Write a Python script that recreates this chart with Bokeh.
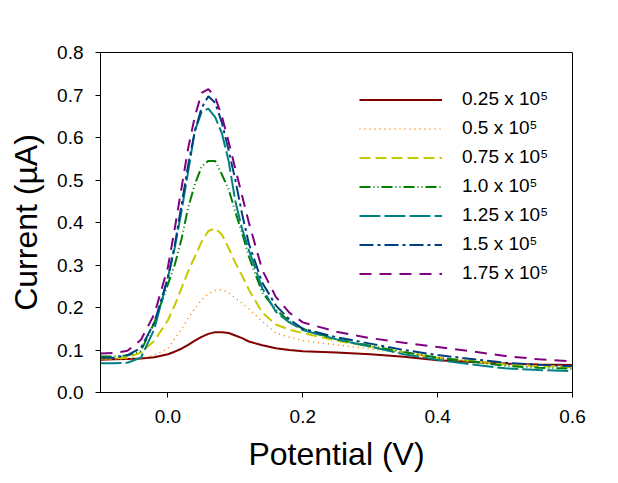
from bokeh.plotting import figure
from bokeh.models import Range1d, FixedTicker, PrintfTickFormatter, Legend, LegendItem
from bokeh.embed import file_html
from bokeh.resources import INLINE

# Potential (V)
potential = [-0.1, -0.08, -0.06, -0.04, -0.02, 0.0, 0.01, 0.02, 0.03, 0.04,
             0.05, 0.06, 0.07, 0.08, 0.09, 0.1, 0.11, 0.12, 0.14, 0.16,
             0.18, 0.2, 0.25, 0.3, 0.35, 0.4, 0.45, 0.5, 0.55, 0.6]

# Current (uA) for each concentration
c_025 = [0.077, 0.078, 0.079, 0.080, 0.083, 0.090, 0.096, 0.103, 0.112, 0.122,
         0.131, 0.138, 0.142, 0.142, 0.140, 0.134, 0.128, 0.120, 0.111, 0.104,
         0.100, 0.097, 0.094, 0.090, 0.084, 0.076, 0.072, 0.068, 0.066, 0.065]
c_050 = [0.078, 0.078, 0.079, 0.080, 0.088, 0.103, 0.127, 0.148, 0.175, 0.198,
         0.218, 0.232, 0.240, 0.242, 0.235, 0.222, 0.210, 0.197, 0.167, 0.140,
         0.130, 0.122, 0.112, 0.103, 0.092, 0.080, 0.074, 0.068, 0.064, 0.062]
c_075 = [0.080, 0.080, 0.082, 0.094, 0.122, 0.170, 0.205, 0.245, 0.285, 0.320,
         0.355, 0.380, 0.386, 0.372, 0.340, 0.305, 0.275, 0.242, 0.188, 0.160,
         0.148, 0.140, 0.122, 0.108, 0.095, 0.082, 0.074, 0.066, 0.062, 0.060]
c_100 = [0.085, 0.085, 0.087, 0.098, 0.165, 0.255, 0.300, 0.360, 0.435, 0.490,
         0.532, 0.545, 0.545, 0.513, 0.478, 0.425, 0.375, 0.320, 0.235, 0.195,
         0.168, 0.150, 0.125, 0.110, 0.095, 0.082, 0.073, 0.063, 0.058, 0.056]
c_125 = [0.069, 0.069, 0.070, 0.082, 0.150, 0.271, 0.340, 0.425, 0.520, 0.616,
         0.660, 0.668, 0.648, 0.610, 0.545, 0.450, 0.385, 0.335, 0.245, 0.190,
         0.165, 0.147, 0.125, 0.108, 0.090, 0.077, 0.066, 0.057, 0.053, 0.050]
c_150 = [0.082, 0.082, 0.088, 0.105, 0.165, 0.270, 0.345, 0.440, 0.535, 0.615,
         0.670, 0.697, 0.682, 0.635, 0.570, 0.500, 0.420, 0.350, 0.258, 0.205,
         0.172, 0.150, 0.130, 0.115, 0.100, 0.088, 0.079, 0.070, 0.065, 0.062]
c_175 = [0.092, 0.093, 0.098, 0.124, 0.185, 0.295, 0.385, 0.480, 0.575, 0.650,
         0.705, 0.714, 0.695, 0.650, 0.590, 0.526, 0.463, 0.400, 0.288, 0.225,
         0.188, 0.165, 0.143, 0.128, 0.117, 0.107, 0.097, 0.086, 0.078, 0.073]

labels = ["0.25 x 10\u2075", "0.5 x 10\u2075", "0.75 x 10\u2075", "1.0 x 10\u2075",
          "1.25 x 10\u2075", "1.5 x 10\u2075", "1.75 x 10\u2075"]
series = [c_025, c_050, c_075, c_100, c_125, c_150, c_175]
colors = ["#800000", "#FF8000", "#C8C800", "#008000", "#008080", "#004080", "#800080"]
dashes = ["solid", "1 4", "11 5", "11 3 1 3 1 3", "21 4", "14 4 3 4", "12 8"]
widths = [2, 1.5, 2, 2, 2, 2, 2]

x_ticks = [0.0, 0.2, 0.4, 0.6]
y_ticks = [0.0, 0.1, 0.2, 0.3, 0.4, 0.5, 0.6, 0.7, 0.8]

FONT = "Liberation Sans"

p = figure(width=610, height=480, x_range=Range1d(-0.1, 0.6), y_range=Range1d(0, 0.8),
           output_backend="svg", toolbar_location=None,
           min_border_left=100, min_border_right=38, min_border_top=52, min_border_bottom=88)
p.xgrid.visible = False
p.ygrid.visible = False
p.outline_line_color = "black"
p.outline_line_width = 1
p.outline_line_alpha = 1
p.background_fill_color = "white"
p.border_fill_color = "white"

for ax, ticks in ((p.xaxis, x_ticks), (p.yaxis, y_ticks)):
    ax.ticker = FixedTicker(ticks=ticks)
    ax.formatter = PrintfTickFormatter(format="%.1f")
    ax.minor_tick_line_color = None
    ax.major_tick_in = 0
    ax.major_tick_out = 5
    ax.major_tick_line_color = "black"
    ax.axis_line_color = "black"
    ax.major_label_text_font = FONT
    ax.major_label_text_font_size = "19px"
    ax.major_label_text_color = "black"
    ax.axis_label_text_font = FONT
    ax.axis_label_text_font_size = "32px"
    ax.axis_label_text_font_style = "normal"
    ax.axis_label_text_color = "black"

p.xaxis.axis_label = "Potential (V)"
p.yaxis.axis_label = "Current (\u00b5A)"
p.xaxis.major_label_standoff = 12
p.xaxis.axis_label_standoff = 10
p.yaxis.major_label_standoff = 12
p.yaxis.axis_label_standoff = 10

items = []
for lab, ys, c, d, w in zip(labels, series, colors, dashes, widths):
    r = p.line(potential, ys, line_color=c, line_dash=d, line_width=w)
    items.append(LegendItem(label=lab, renderers=[r]))

legend = Legend(items=items, location=(259, 108))
legend.border_line_alpha = 0
legend.background_fill_alpha = 0
legend.padding = 0
legend.margin = 0
legend.glyph_width = 83
legend.glyph_height = 21
legend.label_height = 21
legend.spacing = 7
legend.label_standoff = 20
legend.label_text_font = FONT
legend.label_text_font_size = "19px"
legend.label_text_color = "black"
p.add_layout(legend)

open("out.html", "w").write(file_html(p, INLINE))
